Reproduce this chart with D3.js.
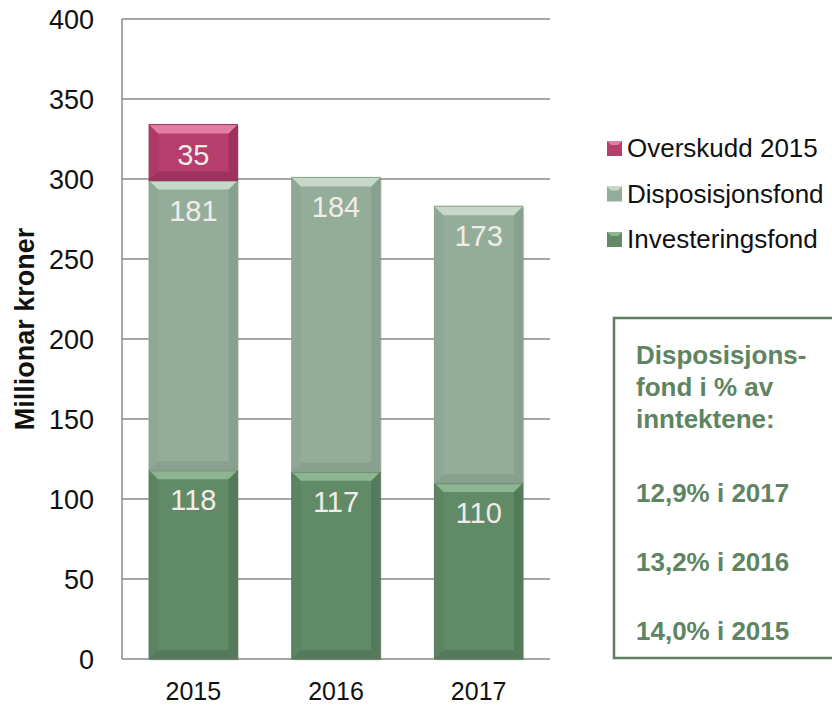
<!DOCTYPE html>
<html>
<head>
<meta charset="utf-8">
<script src="https://cdn.jsdelivr.net/npm/d3@7"></script>
<style>
  body { margin: 0; background: #fff; }
</style>
</head>
<body>
<div id="chart"></div>
<script>
// data
const years = ["2015", "2016", "2017"];
const investeringsfond = [118, 117, 110];
const disposisjonsfond = [181, 184, 173];
const overskudd = [35, 0, 0];
const seriesNames = ["Investeringsfond", "Disposisjonsfond", "Overskudd 2015"];
const yTicks = [0, 50, 100, 150, 200, 250, 300, 350, 400];
const boxHead = ["Disposisjons-", "fond i % av", "inntektene:"];
const boxRows = ["12,9% i 2017", "13,2% i 2016", "14,0% i 2015"];

const width = 832, height = 706;
const margin = { top: 19, right: 282, bottom: 47, left: 122 };
const font = "'Liberation Sans', Arial, sans-serif";

// colours: base, light (top bevel), dark (bottom bevel), side
const colors = {
    "Investeringsfond": { base: "#618a67", light: "#8db592", dark: "#557a5b", side: "#5c8462" },
    "Disposisjonsfond": { base: "#94ad9a", light: "#c6d8ca", dark: "#88a08e", side: "#8fa895" },
    "Overskudd 2015": { base: "#b73e6c", light: "#e27ea3", dark: "#9c325d", side: "#ad3a66" }
};

const svg = d3.select("#chart").append("svg")
    .attr("width", width)
    .attr("height", height)
    .attr("font-family", font);

const x = d3.scaleBand()
    .domain(years)
    .range([margin.left, width - margin.right])
    .paddingInner(0.38)
    .paddingOuter(0.19);

const y = d3.scaleLinear()
    .domain([0, 400])
    .range([height - margin.bottom, margin.top]);

// gridlines
svg.append("g")
    .selectAll("line")
    .data(yTicks.slice(1))
    .join("line")
    .attr("x1", margin.left)
    .attr("x2", width - margin.right)
    .attr("y1", d => y(d))
    .attr("y2", d => y(d))
    .attr("stroke", "#8a8a8a")
    .attr("stroke-width", 1.5);

// axes lines
svg.append("line")
    .attr("x1", margin.left).attr("x2", margin.left)
    .attr("y1", y(0)).attr("y2", y(400))
    .attr("stroke", "#8a8a8a").attr("stroke-width", 1.5);
svg.append("line")
    .attr("x1", margin.left).attr("x2", width - margin.right)
    .attr("y1", y(0)).attr("y2", y(0))
    .attr("stroke", "#8a8a8a").attr("stroke-width", 1.5);

// y tick labels
svg.append("g")
    .selectAll("text")
    .data(yTicks)
    .join("text")
    .attr("x", 94)
    .attr("y", d => y(d))
    .attr("dy", "0.36em")
    .attr("text-anchor", "end")
    .attr("font-size", 27)
    .attr("fill", "#111")
    .text(d => d);

// x tick labels
svg.append("g")
    .selectAll("text")
    .data(years)
    .join("text")
    .attr("x", d => x(d) + x.bandwidth() / 2)
    .attr("y", 700)
    .attr("text-anchor", "middle")
    .attr("font-size", 25)
    .attr("fill", "#111")
    .text(d => d);

// y axis title
svg.append("text")
    .attr("transform", `translate(34, 329) rotate(-90)`)
    .attr("text-anchor", "middle")
    .attr("font-size", 27)
    .attr("font-weight", "bold")
    .attr("fill", "#111")
    .text("Millionar kroner");

// stack the data
const table = years.map((yr, i) => ({
    year: yr,
    "Investeringsfond": investeringsfond[i],
    "Disposisjonsfond": disposisjonsfond[i],
    "Overskudd 2015": overskudd[i]
}));
const stack = d3.stack().keys(seriesNames)(table);

const bevel = 9;
const segs = [];
stack.forEach(layer => {
    layer.forEach(d => {
        const v = d[1] - d[0];
        if (v > 0) segs.push({ key: layer.key, year: d.data.year, y0: d[0], y1: d[1], value: v });
    });
});

const bars = svg.append("g")
    .selectAll("g")
    .data(segs)
    .join("g");

// soft shadow
bars.append("rect")
    .attr("x", d => x(d.year) + 1.5)
    .attr("y", d => y(d.y1) + 1.5)
    .attr("width", x.bandwidth())
    .attr("height", d => y(d.y0) - y(d.y1))
    .attr("fill", "#000")
    .attr("opacity", 0.12);

bars.append("rect")
    .attr("x", d => x(d.year))
    .attr("y", d => y(d.y1))
    .attr("width", x.bandwidth())
    .attr("height", d => y(d.y0) - y(d.y1))
    .attr("fill", d => colors[d.key].base);

// bevel faces
const face = (d, which) => {
    const x0 = x(d.year), x1 = x0 + x.bandwidth();
    const t = y(d.y1), b = y(d.y0);
    const s = Math.min(bevel, (b - t) / 2);
    if (which === "top") return [[x0, t], [x1, t], [x1 - s, t + s], [x0 + s, t + s]];
    if (which === "bottom") return [[x0, b], [x1, b], [x1 - s, b - s], [x0 + s, b - s]];
    if (which === "left") return [[x0, t], [x0 + s, t + s], [x0 + s, b - s], [x0, b]];
    return [[x1, t], [x1 - s, t + s], [x1 - s, b - s], [x1, b]];
};
const line = d3.line();
bars.append("path").attr("d", d => line(face(d, "left")) + "Z").attr("fill", d => colors[d.key].side);
bars.append("path").attr("d", d => line(face(d, "right")) + "Z").attr("fill", d => colors[d.key].dark);
bars.append("path").attr("d", d => line(face(d, "bottom")) + "Z").attr("fill", d => colors[d.key].dark);
bars.append("path").attr("d", d => line(face(d, "top")) + "Z").attr("fill", d => colors[d.key].light);

// thin outline on each segment
bars.append("rect")
    .attr("x", d => x(d.year))
    .attr("y", d => y(d.y1))
    .attr("width", x.bandwidth())
    .attr("height", d => y(d.y0) - y(d.y1))
    .attr("fill", "none")
    .attr("stroke", d => colors[d.key].dark)
    .attr("stroke-width", 1);

// value labels
bars.append("text")
    .attr("x", d => x(d.year) + x.bandwidth() / 2)
    .attr("y", d => y(d.y1) + 40)
    .attr("text-anchor", "middle")
    .attr("font-size", 29)
    .attr("fill", "#f1ece8")
    .text(d => d.value);

// legend
const legendItems = seriesNames.slice().reverse();
const legend = svg.append("g")
    .selectAll("g")
    .data(legendItems)
    .join("g")
    .attr("transform", (d, i) => `translate(607, ${148 + i * 45.5})`);
legend.append("rect")
    .attr("x", 0).attr("y", -7)
    .attr("width", 15).attr("height", 15)
    .attr("fill", d => colors[d].base);
legend.append("path")
    .attr("d", "M0,-7 L15,-7 L11,-3 L4,-3 Z")
    .attr("fill", d => colors[d].light);
legend.append("text")
    .attr("x", 20)
    .attr("dy", "0.36em")
    .attr("font-size", 26)
    .attr("fill", "#111")
    .text(d => d);

// info box
svg.append("rect")
    .attr("x", 614)
    .attr("y", 318)
    .attr("width", 240)
    .attr("height", 340)
    .attr("fill", "none")
    .attr("stroke", "#5e8060")
    .attr("stroke-width", 2.5);

const box = svg.append("g")
    .attr("font-size", 26)
    .attr("font-weight", "bold")
    .attr("fill", "#5e8462");
box.selectAll("text.head")
    .data(boxHead)
    .join("text")
    .attr("class", "head")
    .attr("x", 636)
    .attr("y", (d, i) => 364 + i * 32)
    .text(d => d);
box.selectAll("text.row")
    .data(boxRows)
    .join("text")
    .attr("class", "row")
    .attr("x", 636)
    .attr("y", (d, i) => 502 + i * 69)
    .text(d => d);
</script>
</body>
</html>
